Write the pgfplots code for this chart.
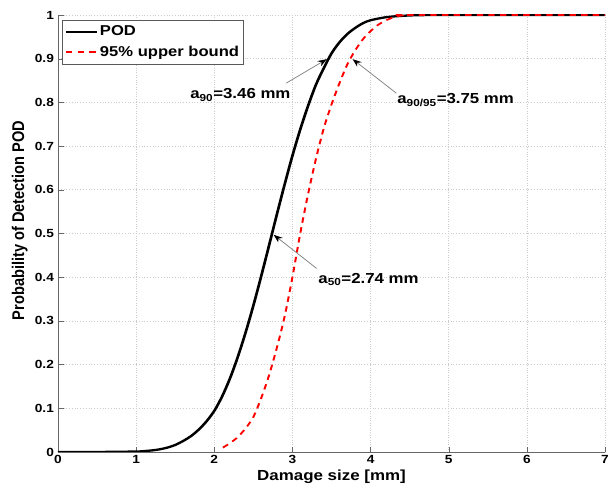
\documentclass[border=0pt]{standalone}
\usepackage{fontspec}
\setmainfont{Liberation Sans}
\usepackage{pgfplots}
\pgfplotsset{compat=1.18}
\usetikzlibrary{arrows.meta}
\begin{document}
\scalebox{1.16}[1]{%
\begin{tikzpicture}
\begin{axis}[
  width=471.6pt, height=437pt, scale only axis,
  xmin=0, xmax=7, ymin=0, ymax=1,
  xtick={0,1,2,3,4,5,6,7},
  ytick={0,0.1,0.2,0.3,0.4,0.5,0.6,0.7,0.8,0.9,1},
  yticklabels={0,0.1,0.2,0.3,0.4,0.5,0.6,0.7,0.8,0.9,1},
  axis x line*=bottom, axis y line*=left,
  axis line style={gray!80!black, -},
  tick style={gray!80!black, major tick length=5pt},
  tick align=inside,
  grid=major,
  major grid style={gray!40, dotted, line width=0.6pt},
  /pgf/number format/assume math mode=true,
  ticklabel style={font=\fontsize{11.8}{14}\selectfont\bfseries},
  xlabel={Damage size [mm]},
  ylabel={Probability of Detection POD},
  label style={font=\fontsize{14.6}{17}\selectfont\bfseries},
  xlabel style={at={(axis description cs:0.5,-0.057)}, anchor=center},
  ylabel style={at={(axis description cs:-0.07,0.53)}, anchor=center},
  legend style={at={(axis description cs:0.0074,0.9886)}, anchor=north west,
    draw=gray!70!black, font=\fontsize{14.3}{16}\selectfont\bfseries,
    inner xsep=2pt, inner ysep=4pt, row sep=5pt,
    nodes={inner sep=1.8pt}, cells={anchor=west}},
  legend cell align=left,
  legend image code/.code={\draw[#1] (0pt,0pt) -- (26.4pt,0pt);},
]
\coordinate (sw) at (rel axis cs:0,0);
\coordinate (ne) at (rel axis cs:1,1);
\addplot[black, line width=2.3pt, smooth] coordinates {
(0,0) (0.5,0) (1.0,0.001) (1.1,0.002) (1.2,0.0035) (1.3,0.006) (1.4,0.010)
(1.5,0.016) (1.6,0.025) (1.7,0.036) (1.8,0.051) (1.9,0.070) (2.0,0.094)
(2.1,0.127) (2.2,0.168) (2.3,0.217) (2.4,0.273) (2.5,0.335) (2.6,0.402)
(2.7,0.472) (2.8,0.543) (2.9,0.612) (3.0,0.678) (3.1,0.738) (3.2,0.792)
(3.3,0.840) (3.4,0.878) (3.5,0.912) (3.6,0.937) (3.7,0.956) (3.8,0.970)
(3.9,0.981) (4.0,0.988) (4.2,0.995) (4.4,0.998) (4.6,0.9995) (5.0,1) (7,1)};
\addlegendentry{POD}
\addplot[red, line width=1.7pt, dash pattern=on 5.5pt off 4.5pt, smooth] coordinates {
(2.11,0.01) (2.2,0.020) (2.3,0.034) (2.4,0.054) (2.5,0.080) (2.6,0.123)
(2.7,0.175) (2.8,0.238) (2.9,0.310) (3.0,0.400) (3.1,0.500) (3.2,0.590)
(3.3,0.670) (3.4,0.740) (3.5,0.795) (3.6,0.843) (3.7,0.886) (3.8,0.918)
(3.9,0.944) (4.0,0.963) (4.1,0.978) (4.2,0.988) (4.3,0.995) (4.4,0.999)
(4.5,1) (7,1)};
\addlegendentry{95\% upper bound}
% annotations
\draw[gray, line width=0.7pt, -{Stealth[black, length=8pt, width=6pt]}] (axis cs:2.92,0.844) -- (axis cs:3.44,0.899);
\draw[gray, line width=0.7pt, -{Stealth[black, length=8pt, width=6pt]}] (axis cs:4.33,0.821) -- (axis cs:3.77,0.899);
\draw[gray, line width=0.7pt, -{Stealth[black, length=8pt, width=6pt]}] (axis cs:3.31,0.42) -- (axis cs:2.76,0.497);
\node[anchor=west, font=\fontsize{14.5}{17}\selectfont\bfseries, inner sep=0pt] at (axis cs:1.69,0.817) {a\textsubscript{90}=3.46 mm};
\node[anchor=west, font=\fontsize{14.5}{17}\selectfont\bfseries, inner sep=0pt] at (axis cs:4.34,0.805) {a\textsubscript{90/95}=3.75 mm};
\node[anchor=west, font=\fontsize{14.5}{17}\selectfont\bfseries, inner sep=0pt] at (axis cs:3.33,0.394) {a\textsubscript{50}=2.74 mm};
\end{axis}
\pgfresetboundingbox
\useasboundingbox ([xshift=-50pt,yshift=-38pt]sw) rectangle ([xshift=6.9pt,yshift=15pt]ne);
\end{tikzpicture}}
\end{document}
